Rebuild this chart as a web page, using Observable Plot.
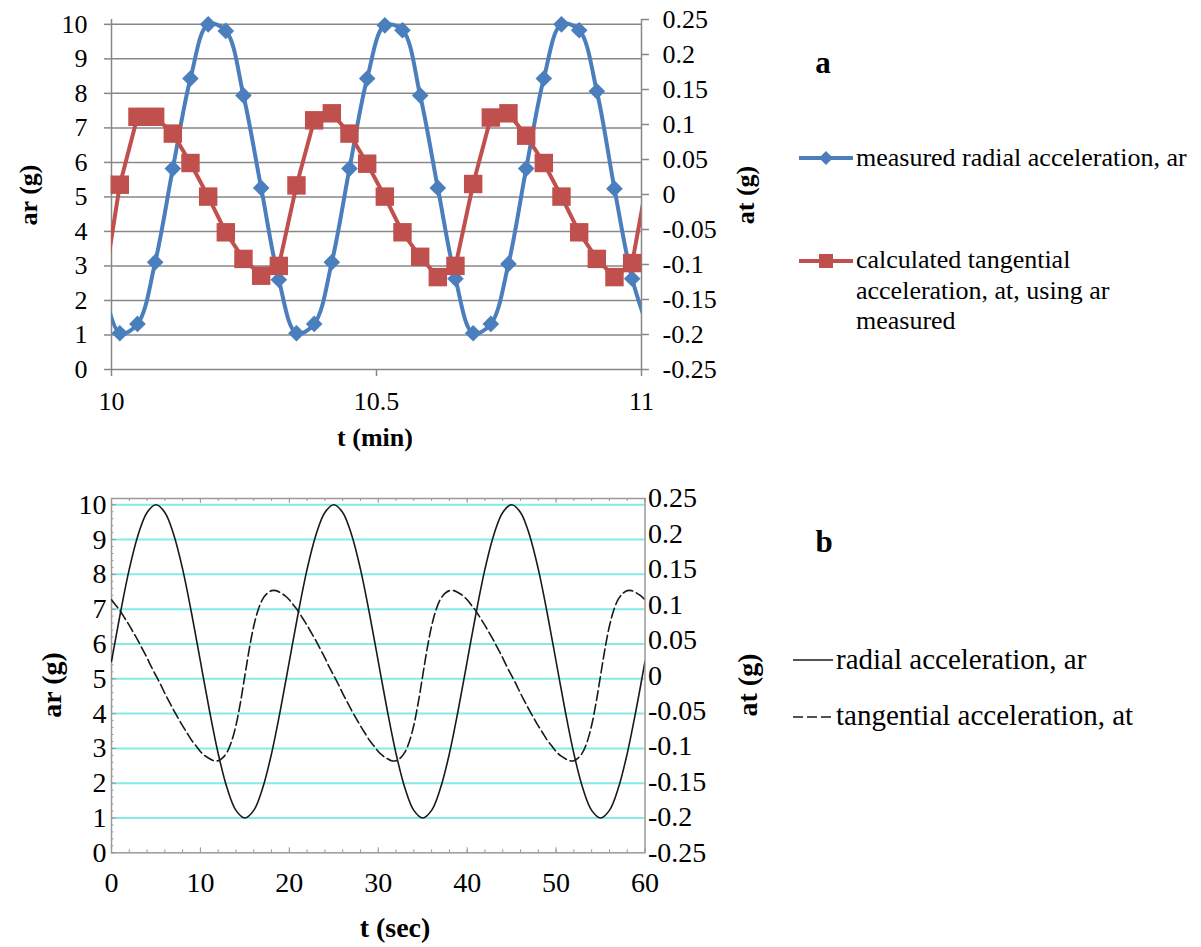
<!DOCTYPE html>
<html>
<head>
<meta charset="utf-8">
<script src="https://cdn.jsdelivr.net/npm/d3@7"></script>
<script src="https://cdn.jsdelivr.net/npm/@observablehq/plot@0.6"></script>
<style>
  html, body { margin: 0; padding: 0; background: #ffffff; }
  #page { position: relative; width: 1201px; height: 947px; background: #ffffff; overflow: hidden; }
  #page svg { position: absolute; left: 0; }
</style>
</head>
<body>
<div id="page"></div>
<script>
// ---------------- Panel a data (t in minutes) ----------------
const tMinA = [9.9824,10.0157,10.049,10.0824,10.1157,10.149,10.1824,10.2157,10.249,10.2824,10.3157,10.349,10.3824,10.4157,10.449,10.4824,10.5157,10.549,10.5824,10.6157,10.649,10.6824,10.7157,10.749,10.7824,10.8157,10.849,10.8824,10.9157,10.949,10.9824,11.0157];
const arMeasured = [2.60,1.05,1.32,3.11,5.82,8.43,10.0,9.81,7.94,5.26,2.60,1.05,1.32,3.11,5.82,8.43,9.97,9.83,7.94,5.26,2.63,1.05,1.32,3.06,5.82,8.43,10.0,9.83,8.06,5.24,2.63,1.05];
const atCalculated = [-0.147,0.014,0.111,0.111,0.087,0.045,-0.003,-0.054,-0.092,-0.116,-0.102,0.013,0.106,0.116,0.087,0.044,-0.003,-0.054,-0.089,-0.118,-0.102,0.015,0.110,0.116,0.084,0.045,-0.003,-0.054,-0.092,-0.118,-0.098,0.041];
const arTicksA = [0,1,2,3,4,5,6,7,8,9,10];
const arTickLabelsA = ["0","1","2","3","4","5","6","7","8","9","10"];
const atTicks = [0.25,0.2,0.15,0.1,0.05,0,-0.05,-0.1,-0.15,-0.2,-0.25];
const atTickLabels = ["0.25","0.2","0.15","0.1","0.05","0","-0.05","-0.1","-0.15","-0.2","-0.25"];
const xTicksA = [10, 10.5, 11];
const xTickLabelsA = ["10","10.5","11"];
const legendA = ["measured radial acceleration, ar", "calculated tangential", "acceleration, at, using ar", "measured"];

// ---------------- Panel b data (t in seconds) ----------------
const tSecAr = d3.range(0, 61, 1);
const arRadial = [5.5,6.89,8.15,9.14,9.78,10,9.78,9.14,8.15,6.89,5.5,4.11,2.85,1.86,1.22,1.0,1.22,1.86,2.85,4.11,
                  5.5,6.89,8.15,9.14,9.78,10,9.78,9.14,8.15,6.89,5.5,4.11,2.85,1.86,1.22,1.0,1.22,1.86,2.85,4.11,
                  5.5,6.89,8.15,9.14,9.78,10,9.78,9.14,8.15,6.89,5.5,4.11,2.85,1.86,1.22,1.0,1.22,1.86,2.85,4.11,5.5];
const tSecAt = d3.range(0, 60.25, 0.5);
const atTangential = [
 0.107,0.099,0.091,0.081,0.071,0.060,0.049,0.037,0.025,0.012,0.000,-0.012,-0.025,-0.037,-0.049,-0.060,-0.071,-0.081,-0.091,-0.099,
 -0.107,-0.113,-0.117,-0.120,-0.120,-0.116,-0.108,-0.093,-0.070,-0.038,0.000,0.038,0.070,0.093,0.108,0.116,0.120,0.120,0.117,0.113,
 0.107,0.099,0.091,0.081,0.071,0.060,0.049,0.037,0.025,0.012,0.000,-0.012,-0.025,-0.037,-0.049,-0.060,-0.071,-0.081,-0.091,-0.099,
 -0.107,-0.113,-0.117,-0.120,-0.120,-0.116,-0.108,-0.093,-0.070,-0.038,0.000,0.038,0.070,0.093,0.108,0.116,0.120,0.120,0.117,0.113,
 0.107,0.099,0.091,0.081,0.071,0.060,0.049,0.037,0.025,0.012,0.000,-0.012,-0.025,-0.037,-0.049,-0.060,-0.071,-0.081,-0.091,-0.099,
 -0.107,-0.113,-0.117,-0.120,-0.120,-0.116,-0.108,-0.093,-0.070,-0.038,0.000,0.038,0.070,0.093,0.108,0.116,0.120,0.120,0.117,0.113,
 0.107];
const arTicksB = [0,1,2,3,4,5,6,7,8,9,10];
const arTickLabelsB = ["0","1","2","3","4","5","6","7","8","9","10"];
const xTicksB = [0,10,20,30,40,50,60];
const xTickLabelsB = ["0","10","20","30","40","50","60"];
const legendB = ["radial acceleration, ar", "tangential acceleration, at"];

// ---------------- styling ----------------
const FONT = '"Liberation Serif", "Times New Roman", serif';
const BLUE = "#4a7ebd";
const RED = "#c0504d";
const GRID = "#878787";
const CYAN = "#84eaea";
const FRAMEB = "#9a9a9a";

const page = document.getElementById("page");

// ================= Panel a =================
const yMaxA = 10.14;
const atToA = v => (v + 0.25) / 0.5 * yMaxA;
const seriesA = tMinA.map((t, i) => ({t, ar: arMeasured[i], at: atCalculated[i]}));
const lblArA = new Map(arTicksA.map((v, i) => [v, arTickLabelsA[i]]));
const atPosA = atTicks.map(atToA);
const lblAtA = new Map(atPosA.map((v, i) => [v, atTickLabels[i]]));
const lblXA = new Map(xTicksA.map((v, i) => [v, xTickLabelsA[i]]));
const inside = d => d.t >= 10 && d.t <= 11;

const plotA = Plot.plot({
  width: 780, height: 460,
  marginLeft: 111, marginRight: 139, marginTop: 19, marginBottom: 91,
  x: {domain: [10, 11]},
  y: {domain: [0, yMaxA]},
  style: {fontFamily: FONT, fontSize: "26px", color: "#000", background: "transparent"},
  marks: [
    Plot.ruleY(arTicksA, {stroke: GRID, strokeWidth: 1.5}),
    Plot.ruleX([10, 11], {stroke: GRID, strokeWidth: 1.5}),
    Plot.axisY(arTicksA, {anchor: "left", tickSize: 7, tickPadding: 17, stroke: GRID, strokeWidth: 1.5, label: null, tickFormat: d => lblArA.get(d)}),
    Plot.axisY(atPosA, {anchor: "right", tickSize: 7, tickPadding: 14, stroke: GRID, strokeWidth: 1.5, label: null, tickFormat: d => lblAtA.get(d)}),
    Plot.axisX(xTicksA, {anchor: "bottom", tickSize: 7, tickPadding: 15, stroke: GRID, strokeWidth: 1.5, label: null, tickFormat: d => lblXA.get(d)}),
    Plot.line(seriesA, {x: "t", y: "ar", stroke: BLUE, strokeWidth: 4, curve: "catmull-rom", clip: true}),
    Plot.dot(seriesA, {filter: inside, x: "t", y: "ar", symbol: "diamond2", r: 7.5, fill: BLUE}),
    Plot.line(seriesA, {x: "t", y: d => atToA(d.at), stroke: RED, strokeWidth: 4, clip: true}),
    Plot.dot(seriesA, {filter: inside, x: "t", y: d => atToA(d.at), symbol: "square", r: 10.4, fill: RED})
  ]
});
plotA.style.top = "0px";
page.appendChild(plotA);

// ================= Panel b =================
const W_B = 780, H_B = 477, ML_B = 111, MR_B = 135.5, MT_B = 28, MB_B = 94.7;
const plotWB = W_B - ML_B - MR_B, plotHB = H_B - MT_B - MB_B;
const yMaxB = 10.18;
const atToB = v => (v + 0.25) / 0.5 * yMaxB;
const seriesArB = tSecAr.map((t, i) => ({t, ar: arRadial[i]}));
const seriesAtB = tSecAt.map((t, i) => ({t, at: atTangential[i]}));
const lblArB = new Map(arTicksB.map((v, i) => [v, arTickLabelsB[i]]));
const atPosB = atTicks.map(atToB);
const lblAtB = new Map(atPosB.map((v, i) => [v, atTickLabels[i]]));
const lblXB = new Map(xTicksB.map((v, i) => [v, xTickLabelsB[i]]));
const minorYB = d3.range(0, 10.2, 0.2);
const minorXB = d3.range(0, 61, 2);

const plotB = Plot.plot({
  width: W_B, height: H_B,
  marginLeft: ML_B, marginRight: MR_B, marginTop: MT_B, marginBottom: MB_B,
  x: {domain: [0, 60]},
  y: {domain: [0, yMaxB]},
  style: {fontFamily: FONT, fontSize: "28px", color: "#000", background: "transparent"},
  marks: [
    Plot.ruleY(arTicksB.filter(d => d > 0), {stroke: CYAN, strokeWidth: 2}),
    Plot.ruleY(minorYB, {stroke: FRAMEB, strokeWidth: 1, insetRight: plotWB - 2.5}),
    Plot.ruleY(arTicksB, {stroke: FRAMEB, strokeWidth: 1, insetRight: plotWB - 5}),
    Plot.ruleX(minorXB, {stroke: FRAMEB, strokeWidth: 1, insetBottom: plotHB - 3}),
    Plot.ruleX(xTicksB, {stroke: FRAMEB, strokeWidth: 1, insetBottom: plotHB - 5}),
    Plot.ruleX(minorXB, {stroke: FRAMEB, strokeWidth: 1, insetTop: plotHB - 3}),
    Plot.ruleX(xTicksB, {stroke: FRAMEB, strokeWidth: 1, insetTop: plotHB - 5}),
    Plot.frame({stroke: FRAMEB, strokeWidth: 1.5}),
    Plot.axisY(arTicksB, {anchor: "left", tickSize: 0, tickPadding: 5, label: null, tickFormat: d => lblArB.get(d)}),
    Plot.axisY(atPosB, {anchor: "right", tickSize: 0, tickPadding: 3, label: null, tickFormat: d => lblAtB.get(d)}),
    Plot.axisX(xTicksB, {anchor: "bottom", tickSize: 0, tickPadding: 19, label: null, tickFormat: d => lblXB.get(d)}),
    Plot.line(seriesArB, {x: "t", y: "ar", stroke: "#1a1a1a", strokeWidth: 1.6, curve: "catmull-rom", clip: true}),
    Plot.line(seriesAtB, {x: "t", y: d => atToB(d.at), stroke: "#1a1a1a", strokeWidth: 1.6, strokeDasharray: "10,4", curve: "catmull-rom", clip: true})
  ]
});
plotB.style.top = "470px";
page.appendChild(plotB);

// ================= Titles, panel letters and legends =================
const ov = d3.create("svg")
  .attr("width", 1201).attr("height", 947)
  .style("top", "0px")
  .attr("font-family", FONT);

function label(x, y, s, size, weight, rotate) {
  const t = ov.append("text")
    .attr("font-size", size).attr("font-weight", weight || "normal")
    .attr("fill", "#000").text(s);
  if (rotate) {
    t.attr("text-anchor", "middle").attr("dominant-baseline", "central")
     .attr("transform", `translate(${x},${y}) rotate(-90)`);
  } else {
    t.attr("x", x).attr("y", y);
  }
  return t;
}

// panel a titles
label(375, 446, "t (min)", 26, "bold").attr("text-anchor", "middle");
label(28, 195, "ar (g)", 26, "bold", true);
label(745, 195, "at (g)", 26, "bold", true);
label(823, 73, "a", 31, "bold").attr("text-anchor", "middle");

// panel b titles
label(395, 937, "t (sec)", 28, "bold").attr("text-anchor", "middle");
label(51, 685, "ar (g)", 28, "bold", true);
label(747, 685, "at (g)", 28, "bold", true);
label(824, 552, "b", 31, "bold").attr("text-anchor", "middle");

// legend a
ov.append("line").attr("x1", 799).attr("x2", 853).attr("y1", 158).attr("y2", 158).attr("stroke", BLUE).attr("stroke-width", 4);
ov.append("path").attr("d", "M826,151L833,158L826,165L819,158Z").attr("fill", BLUE);
label(856, 166, legendA[0], 26);
ov.append("line").attr("x1", 799).attr("x2", 853).attr("y1", 261).attr("y2", 261).attr("stroke", RED).attr("stroke-width", 4);
ov.append("rect").attr("x", 819).attr("y", 254).attr("width", 14).attr("height", 14).attr("fill", RED);
label(856, 268, legendA[1], 26);
label(856, 298.5, legendA[2], 26);
label(856, 329, legendA[3], 26);

// legend b
ov.append("line").attr("x1", 793).attr("x2", 833).attr("y1", 660).attr("y2", 660).attr("stroke", "#1a1a1a").attr("stroke-width", 1.6);
label(836, 669, legendB[0], 29);
ov.append("line").attr("x1", 793).attr("x2", 835).attr("y1", 717).attr("y2", 717).attr("stroke", "#1a1a1a").attr("stroke-width", 1.6).attr("stroke-dasharray", "10,4");
label(836, 725, legendB[1], 29);

page.appendChild(ov.node());
</script>
</body>
</html>
